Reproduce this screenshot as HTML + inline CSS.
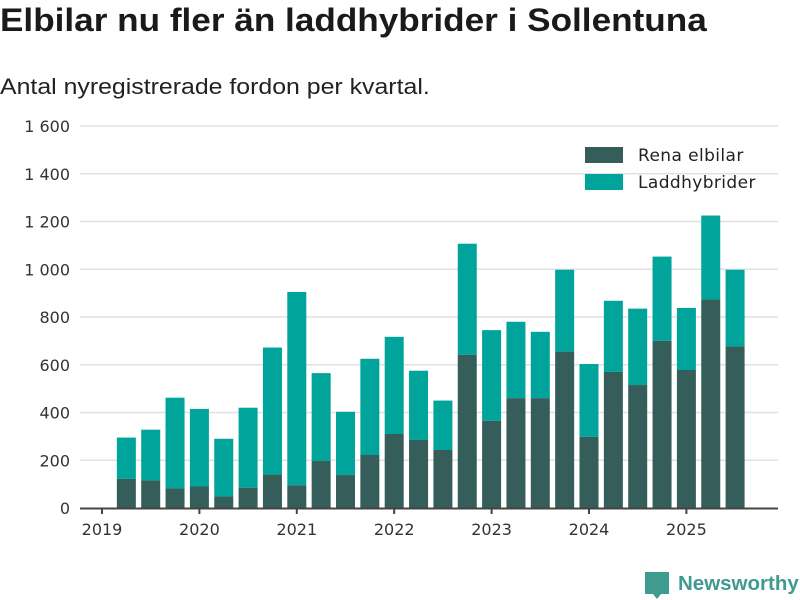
<!DOCTYPE html>
<html><head><meta charset="utf-8"><style>
body{margin:0;background:#fff;font-family:"Liberation Sans","DejaVu Sans",sans-serif}
#wrap{position:relative;width:800px;height:600px;overflow:hidden}
h1{position:absolute;left:0;top:2px;margin:0;font-size:32px;font-weight:bold;color:#1a1a1a;transform:scaleX(1.098);transform-origin:0 0;white-space:nowrap}
.sub{position:absolute;left:0;top:74px;font-size:22px;color:#222;transform:scaleX(1.13);transform-origin:0 0;white-space:nowrap}
</style></head><body>
<div id="wrap">
<h1>Elbilar nu fler än laddhybrider i Sollentuna</h1>
<div class="sub">Antal nyregistrerade fordon per kvartal.</div>
<svg id="svg" width="800" height="600" style="position:absolute;left:0;top:0"></svg>
</div>
<script>
const quarters=["2019Q2","2019Q3","2019Q4","2020Q1","2020Q2","2020Q3","2020Q4","2021Q1","2021Q2","2021Q3","2021Q4","2022Q1","2022Q2","2022Q3","2022Q4","2023Q1","2023Q2","2023Q3","2023Q4","2024Q1","2024Q2","2024Q3","2024Q4","2025Q1","2025Q2","2025Q3"];
const elbilar=[122,115,82,90,48,85,140,95,197,138,222,310,285,243,642,365,460,460,655,298,570,515,700,578,873,677];
const totals=[295,328,462,415,290,420,672,905,565,403,625,717,575,450,1107,745,780,738,998,603,868,835,1053,838,1225,998];
const yTicks=[0,200,400,600,800,1000,1200,1400,1600];
const yTickLabels=["0","200","400","600","800","1 000","1 200","1 400","1 600"];
const years=[2019,2020,2021,2022,2023,2024,2025];
const NS="http://www.w3.org/2000/svg",svg=document.getElementById('svg');
const F='DejaVu Sans, sans-serif';
const y=v=>508-v*(382/1600);
const xq=(yr,q)=>102+((yr-2019)*4+(q-1))*24.35;
function mk(t,a,p){const e=document.createElementNS(NS,t);for(const k in a)e.setAttribute(k,a[k]);(p||svg).appendChild(e);return e;}
yTicks.forEach((v,i)=>{
 if(v>0){const g=mk('line',{x1:80,x2:778,y1:y(v),y2:y(v),stroke:'#e0e0e0','stroke-width':1.5});
 
 }
 const t=mk('text',{x:70,y:y(v)+6,'text-anchor':'end','font-size':16,fill:'#333','font-family':F});
 
 
 t.textContent=yTickLabels[i];
});
quarters.forEach((qs,i)=>{
 const yr=+qs.slice(0,4),q=+qs.slice(5);
 const cx=xq(yr,q),w=19;
 const hy=mk('rect',{x:cx-w/2,y:y(totals[i]),width:w,height:y(elbilar[i])-y(totals[i]),fill:'#00a49a'});
 
 
 const el=mk('rect',{x:cx-w/2,y:y(elbilar[i]),width:w,height:508-y(elbilar[i]),fill:'#355e5a'});
 
 
});
const ax=mk('line',{x1:80,x2:778,y1:508.5,y2:508.5,stroke:'#444','stroke-width':2});


years.forEach(yr=>{
 const x=xq(yr,1);
 const tk=mk('line',{x1:x,x2:x,y1:508,y2:514,stroke:'#444','stroke-width':2});
 
 
 const t=mk('text',{x:x,y:535,'text-anchor':'middle','font-size':16,fill:'#333','font-family':F});
 
 
 t.textContent=yr;
});
[["Rena elbilar","#355e5a",155],["Laddhybrider","#00a49a",182]].forEach(([n,c,yy])=>{
 const r=mk('rect',{x:585,y:yy-8,width:38,height:16,fill:c});
 
 
 const t=mk('text',{x:638,y:yy+6,'font-size':17,fill:'#222','font-family':F,'letter-spacing':0.4});
 
 
 t.textContent=n;
});
const logo=mk('path',{d:'M645 572h24v22h-8l-4 5-4-5h-8z',fill:'#3f9a90'});


const lt=mk('text',{x:678,y:590,'font-size':20.5,fill:'#3f9a90','font-weight':'bold','font-family':'Liberation Sans, sans-serif'});


lt.textContent='Newsworthy';
</script>
</body></html>
